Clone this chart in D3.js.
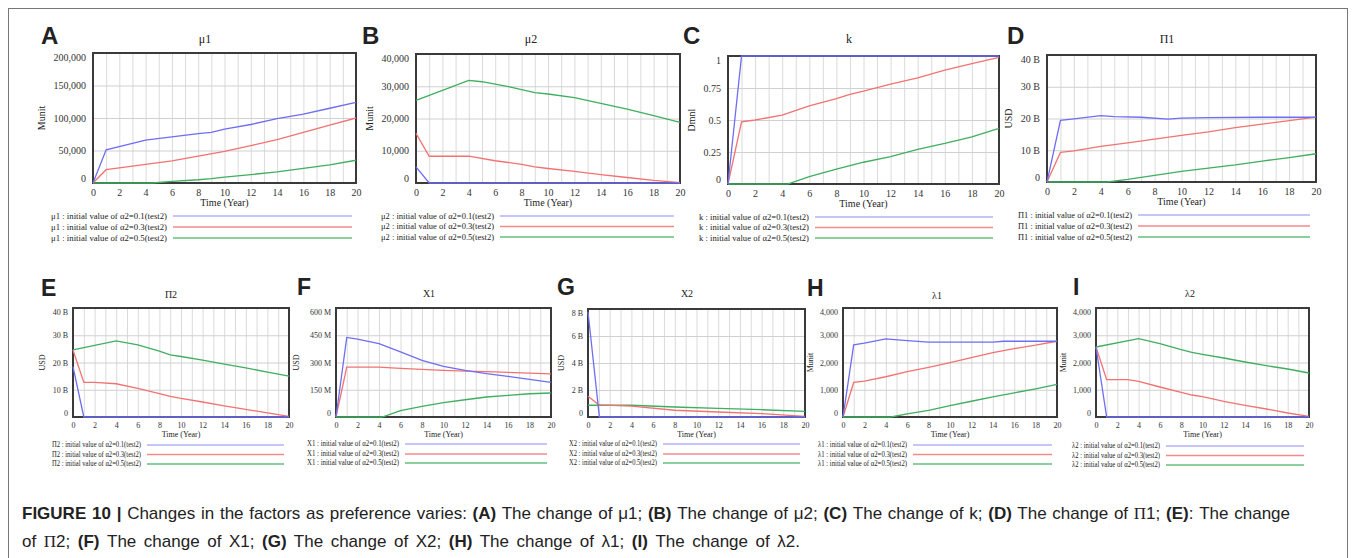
<!DOCTYPE html>
<html>
<head>
<meta charset="UTF-8">
<script src="https://d3js.org/d3.v7.min.js"></script>
<style>
  body { margin: 0; background: #fff; }
  svg text { fill: #222; }
  .tick text { font-family: "Liberation Serif", "Times New Roman", serif; fill: #333; }
</style>
</head>
<body>
<svg id="fig" width="1356" height="558"></svg>
<script>
// x tick labels (years)
const yearTicks = [0, 2, 4, 6, 8, 10, 12, 14, 16, 18, 20];
const gridYears = d3.range(0, 21);
const legendCases = ["0.1", "0.3", "0.5"];

// A  mu1 (Munit)
const mu1_a = [[0,0],[1,51000],[4,66000],[8,76000],[9,78000],[10,83000],[12,90000],[14,99000],[16,106000],[18,115000],[20,124000]];
const mu1_b = [[0,0],[1,20500],[4,28700],[6,34000],[8,41500],[10,48700],[12,57400],[14,66700],[16,78000],[18,89000],[20,100000]];
const mu1_c = [[0,0],[4.5,0],[6,2500],[8,5000],[9,6700],[10,9000],[12,13000],[14,17000],[16,22500],[18,28000],[20,35000]];
// B  mu2
const mu2_a = [[0,5000],[1,0],[20,0]];
const mu2_b = [[0,15400],[1,8300],[4,8300],[6,6900],[8,5800],[9,5000],[10,4500],[12,3600],[14,2600],[16,1700],[18,800],[20,100]];
const mu2_c = [[0,25600],[4,31800],[5,31400],[7,29900],[9,28000],[10,27600],[12,26500],[14,24700],[16,22900],[18,20900],[20,18800]];
// C  k (Dmnl)
const k_a = [[0,0],[1,1],[20,1]];
const k_b = [[0,0],[1,0.486],[2,0.5],[4,0.538],[6,0.61],[8,0.667],[9,0.7],[10,0.725],[12,0.78],[14,0.83],[16,0.89],[18,0.94],[20,0.99]];
const k_c = [[0,0],[4.4,0],[6,0.057],[8,0.117],[10,0.17],[12,0.213],[14,0.27],[16,0.317],[18,0.369],[20,0.434]];
// D  Pi1 (B USD)
const pi1_a = [[0,0],[1,19.4],[2,19.9],[4,20.9],[5,20.6],[7,20.4],[9,19.8],[10,20.1],[12,20.3],[16,20.4],[20,20.4]];
const pi1_b = [[0,0],[1,9.3],[2,9.8],[4,11.2],[6,12.3],[8,13.5],[10,14.7],[12,15.8],[14,17.1],[16,18.2],[18,19.3],[20,20.4]];
const pi1_c = [[0,0],[4.5,0],[6,0.8],[8,2.1],[10,3.35],[12,4.4],[14,5.4],[16,6.6],[18,7.7],[20,8.9]];
// E  Pi2 (B USD)
const pi2_a = [[0,18.5],[1,0],[20,0]];
const pi2_b = [[0,24.6],[1,12.7],[2,12.7],[4,12.2],[6,10.5],[8,8.6],[9,7.6],[10,6.8],[12,5.5],[14,4.1],[16,2.8],[18,1.5],[20,0.25]];
const pi2_c = [[0,24.6],[4,27.9],[6,26.5],[8,24.2],[9,22.8],[10,22.2],[12,20.9],[14,19.4],[16,18],[18,16.5],[20,15]];
// F  X1 (M USD)
const x1_a = [[0,0],[1,438],[2,429],[4,404],[6,358],[8,312],[10,279],[12,257],[14,239],[16,224],[18,207],[20,191]];
const x1_b = [[0,0],[1,275],[4,275],[6,268],[8,262],[10,257],[12,253],[14,250],[16,246],[18,242],[20,237]];
const x1_c = [[0,0],[4.3,0],[6,35],[8,59],[10,79],[12,95],[14,110],[16,119],[18,128],[20,132]];
// G  X2 (B USD)
const x2_a = [[0,7.8],[1.05,0],[20,0]];
const x2_b = [[0,1.54],[1,0.9],[4,0.8],[8,0.5],[12,0.37],[16,0.25],[20,0.05]];
const x2_c = [[0,0.87],[4,0.87],[8,0.74],[12,0.64],[16,0.54],[20,0.42]];
// H  lambda1 (Munit)
const l1_a = [[0,0],[1,2646],[2,2708],[4,2868],[6,2806],[8,2745],[14,2745],[15,2780],[20,2780]];
const l1_b = [[0,0],[1,1268],[2,1317],[4,1477],[6,1661],[8,1822],[10,1994],[12,2178],[14,2363],[16,2511],[18,2634],[20,2780]];
const l1_c = [[0,0],[4.5,0],[6,111],[8,246],[10,418],[12,578],[14,738],[16,886],[18,1034],[20,1194]];
// I  lambda2 (Munit)
const l2_a = [[0,2569],[1,0],[20,0]];
const l2_b = [[0,2569],[1,1370],[3,1370],[4,1309],[6,1101],[8,905],[9,807],[10,746],[12,575],[14,428],[16,294],[18,147],[20,24]];
const l2_c = [[0,2569],[4,2875],[6,2691],[8,2471],[9,2373],[10,2300],[12,2165],[14,2018],[16,1884],[18,1761],[20,1615]];

const colors = ["#6e6ef2", "#f27272", "#3fae5f"];
const legendColors = ["#8c8cf5", "#f58a8a", "#62c07c"];

const svg = d3.select("#fig");

// outer frame
svg.append("rect").attr("x", 8.5).attr("y", 8.5).attr("width", 1339).attr("height", 570)
  .attr("fill", "none").attr("stroke", "#777").attr("stroke-width", 1);

const comma = d3.format(",");
const panels = [
  {L:"A", title:"\u03bc1", yl:"Munit", series:[mu1_a,mu1_b,mu1_c], max:200000, step:50000, fmt:comma,
   box:[93,356,53,183], lx:41, ly:44, tx:205, ty:43, ylx:45, row:0,
   leg:{tx:51, l0:173, l1:352, y:[216,227,238]}},
  {L:"B", title:"\u03bc2", yl:"Munit", series:[mu2_a,mu2_b,mu2_c], max:40000, step:10000, fmt:comma,
   box:[416,680,54,183], lx:362, ly:44, tx:531, ty:43, ylx:373, row:0,
   leg:{tx:381, l0:500, l1:674, y:[216,226.5,237]}},
  {L:"C", title:"k", yl:"Dmnl", series:[k_a,k_b,k_c], max:1, step:0.25, fmt:d => String(d),
   box:[728,999,56,184], lx:683, ly:44, tx:849, ty:43, ylx:695, row:0,
   leg:{tx:699, l0:815, l1:993, y:[217,227.5,238]}},
  {L:"D", title:"\u03a01", yl:"USD", series:[pi1_a,pi1_b,pi1_c], max:40, step:10, fmt:d => d === 0 ? "0" : d + " B",
   box:[1047,1316,55,182], lx:1007, ly:44, tx:1167, ty:43, ylx:1012, row:0,
   leg:{tx:1018, l0:1138, l1:1310, y:[215,226,237]}},
  {L:"E", title:"\u03a02", yl:"USD", series:[pi2_a,pi2_b,pi2_c], max:40, step:10, fmt:d => d === 0 ? "0" : d + " B",
   box:[73,289,308,417], lx:41, ly:296, tx:171, ty:298, ylx:45, row:1,
   leg:{tx:52, l0:147, l1:284, y:[445,454.5,464]}},
  {L:"F", title:"X1", yl:"USD", series:[x1_a,x1_b,x1_c], max:600, step:150, fmt:d => d === 0 ? "0" : d + " M",
   box:[336,551,308,417], lx:297, ly:295, tx:429, ty:297, ylx:299, row:1,
   leg:{tx:307, l0:405, l1:547, y:[444,454,463]}},
  {L:"G", title:"X2", yl:"USD", series:[x2_a,x2_b,x2_c], max:8, step:2, fmt:d => d === 0 ? "0" : d + " B",
   box:[588,805,309,417], lx:557, ly:295, tx:687, ty:297, ylx:564, row:1,
   leg:{tx:569, l0:663, l1:800, y:[444,454,463]}},
  {L:"H", title:"\u03bb1", yl:"Munit", series:[l1_a,l1_b,l1_c], max:4000, step:1000, fmt:comma,
   box:[843,1057,308,417], lx:807, ly:296, tx:937, ty:299, ylx:813, row:1,
   leg:{tx:818, l0:913, l1:1052, y:[445,454.5,464]}},
  {L:"I", title:"\u03bb2", yl:"Munit", series:[l2_a,l2_b,l2_c], max:4000, step:1000, fmt:comma,
   box:[1096,1309,308,417], lx:1073, ly:295, tx:1190, ty:297, ylx:1066, row:1,
   leg:{tx:1072, l0:1166, l1:1304, y:[446,455.5,465]}}
];

const serif = "'Liberation Serif', 'Times New Roman', serif";

panels.forEach(p => {
  const [x0, x1, y0, y1] = p.box;
  const w = x1 - x0, h = y1 - y0;
  const small = p.row === 1;
  const tickFs = small ? 8 : 10;
  const g = svg.append("g");

  const x = d3.scaleLinear().domain([0, 20]).range([x0, x1]);
  const y = d3.scaleLinear().domain([0, p.max]).range([y1, y0]);
  const yTicks = d3.range(0, p.max + p.step / 2, p.step);

  // grid
  g.append("g").attr("transform", `translate(0,${y1})`)
    .call(d3.axisBottom(x).tickValues(gridYears).tickSize(-h).tickFormat(""))
    .call(s => s.select(".domain").remove())
    .call(s => s.selectAll("line").attr("stroke", "#dadada"));
  g.append("g").attr("transform", `translate(${x0},0)`)
    .call(d3.axisLeft(y).tickValues(yTicks).tickSize(-w).tickFormat(""))
    .call(s => s.select(".domain").remove())
    .call(s => s.selectAll("line").attr("stroke", "#d0d0d0"));

  // tick labels
  g.append("g").attr("transform", `translate(0,${y1})`)
    .call(d3.axisBottom(x).tickValues(yearTicks).tickSize(0).tickPadding(small ? 5 : 6))
    .call(s => s.select(".domain").remove())
    .call(s => s.selectAll("text").attr("font-size", tickFs).attr("font-family", serif));
  g.append("g").attr("transform", `translate(${x0},0)`)
    .call(d3.axisLeft(y).tickValues(yTicks).tickSize(0).tickPadding(small ? 5 : 7).tickFormat(p.fmt))
    .call(s => s.select(".domain").remove())
    .call(s => s.selectAll("text").attr("font-size", tickFs).attr("font-family", serif)
      .attr("dy", d => d === 0 ? "-0.15em" : (d === p.max ? "0.75em" : "0.32em")));

  // frame
  g.append("rect").attr("x", x0).attr("y", y0).attr("width", w).attr("height", h)
    .attr("fill", "none").attr("stroke", "#3a3a3a").attr("stroke-width", 2);

  // series (drawn over the frame, as in the original)
  const line = d3.line().x(d => x(d[0])).y(d => y(d[1]));
  [2, 1, 0].forEach(i => {
    g.append("path").datum(p.series[i]).attr("d", line)
      .attr("fill", "none").attr("stroke", colors[i]).attr("stroke-width", 1.3);
  });

  // texts
  g.append("text").attr("x", p.lx).attr("y", p.ly)
    .attr("font-family", "'Liberation Sans', Arial, sans-serif").attr("font-weight", "bold")
    .attr("font-size", small ? 23 : 24).attr("fill", "#111").text(p.L);
  g.append("text").attr("x", p.tx).attr("y", p.ty).attr("text-anchor", "middle")
    .attr("font-family", serif).attr("font-size", small ? 10 : 12).text(p.title);
  g.append("text").attr("x", (x0 + x1) / 2).attr("y", y1 + (small ? 20 : 23)).attr("text-anchor", "middle")
    .attr("font-family", serif).attr("font-size", small ? 8 : 10).text("Time (Year)");
  g.append("text").attr("transform", `translate(${p.ylx},${(y0 + y1) / 2}) rotate(-90)`)
    .attr("text-anchor", "middle").attr("font-family", serif).attr("font-size", small ? 8 : 10)
    .attr("fill", "#444").text(p.yl);

  // legend
  legendCases.forEach((c, i) => {
    const ly = p.leg.y[i];
    g.append("text").attr("x", p.leg.tx).attr("y", ly).attr("dy", "0.32em")
      .attr("font-family", serif).attr("font-size", small ? 7.5 : 9)
      .attr("textLength", p.leg.l0 - 6 - p.leg.tx).attr("lengthAdjust", "spacingAndGlyphs")
      .text(`${p.title} : initial value of \u03b12=${c}(test2)`);
    g.append("line").attr("x1", p.leg.l0).attr("x2", p.leg.l1).attr("y1", ly).attr("y2", ly)
      .attr("stroke", legendColors[i]).attr("stroke-width", i === 0 ? 1.2 : 1.6);
  });
});

// caption ("b" = bold, "s" = serif glyph)
const cap = svg.append("g").attr("font-family", "'Liberation Sans', Arial, sans-serif").attr("font-size", 17).attr("fill", "#222");
const captionLines = [
  {y: 519, target: 1268, parts: [["FIGURE 10 | ", "b"], ["Changes in the factors as preference varies: ", ""], ["(A)", "b"], [" The change of \u03bc1; ", ""],
    ["(B)", "b"], [" The change of \u03bc2; ", ""], ["(C)", "b"], [" The change of k; ", ""], ["(D)", "b"],
    [" The change of ", ""], ["\u03a0", "s"], ["1; ", ""], ["(E)", "b"], [": The change", ""]]},
  {y: 547, target: 778, parts: [["of ", ""], ["\u03a0", "s"], ["2; ", ""], ["(F)", "b"], [" The change of X1; ", ""], ["(G)", "b"], [" The change of X2; ", ""],
    ["(H)", "b"], [" The change of \u03bb1; ", ""], ["(I)", "b"], [" The change of \u03bb2.", ""]]}
];
captionLines.forEach(cl => {
  const t = cap.append("text").attr("x", 22).attr("y", cl.y);
  cl.parts.forEach(([s, f]) => t.append("tspan")
    .attr("font-weight", f === "b" ? "bold" : null)
    .attr("font-family", f === "s" ? serif : null)
    .text(s));
  const full = cl.parts.map(d => d[0]).join("");
  const spaces = (full.match(/ /g) || []).length;
  const len = t.node().getComputedTextLength();
  t.attr("word-spacing", Math.max(0, (cl.target - len) / spaces));
});
</script>
</body>
</html>
